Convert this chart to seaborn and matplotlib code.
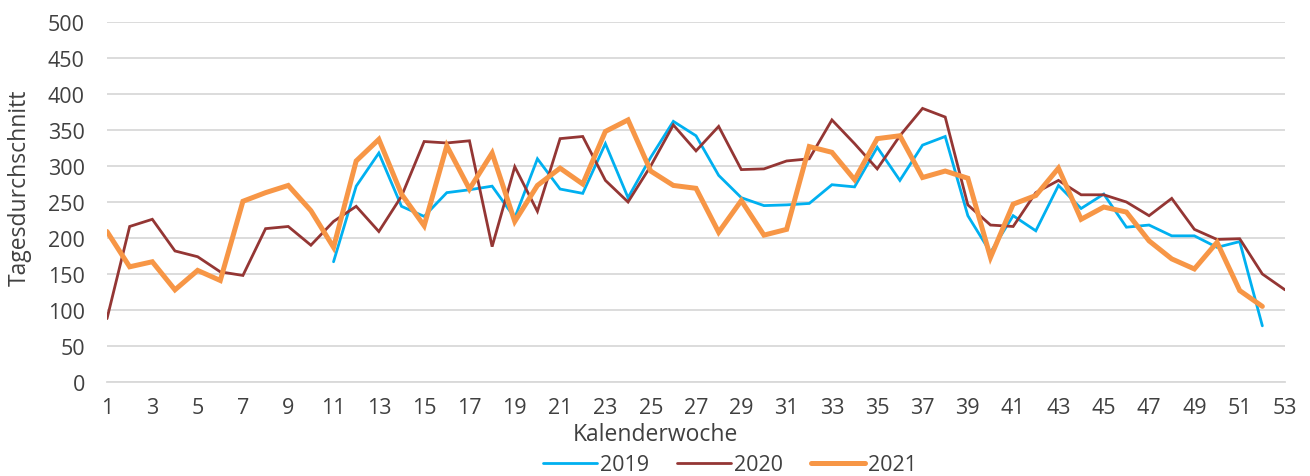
import pandas as pd
import matplotlib
matplotlib.use("Agg")
import matplotlib.pyplot as plt
import seaborn as sns

weeks = list(range(1, 54))

# Tagesdurchschnitt je Kalenderwoche
y2019 = [None] * 10 + [167, 272, 318, 244, 230, 263, 267, 272, 228, 310,
                       268, 262, 331, 256, 312, 362, 342, 287, 256, 245,
                       246, 248, 274, 271, 326, 280, 329, 341, 231, 180,
                       231, 210, 273, 241, 261, 215, 218, 203, 203, 187,
                       195, 78, None]
y2020 = [88, 216, 226, 182, 174, 153, 148, 213, 216, 190,
         223, 244, 209, 258, 334, 332, 335, 188, 299, 237,
         338, 341, 280, 250, 300, 357, 321, 355, 295, 296,
         307, 310, 364, 331, 296, 342, 380, 368, 246, 218,
         216, 263, 280, 260, 260, 250, 231, 255, 212, 198,
         199, 150, 128]
y2021 = [209, 160, 167, 128, 155, 141, 251, 263, 273, 238,
         187, 307, 337, 261, 217, 328, 268, 318, 223, 273,
         297, 275, 348, 364, 293, 273, 269, 208, 252, 204,
         212, 327, 319, 281, 338, 342, 284, 293, 283, 173,
         247, 259, 297, 226, 243, 236, 196, 171, 157, 194,
         127, 105, None]

years = ["2019", "2020", "2021"]
colors = {"2019": "#00B0F0", "2020": "#943634", "2021": "#F79646"}
widths = {"2019": 2.0, "2020": 2.0, "2021": 3.6}

df = pd.DataFrame({"Kalenderwoche": weeks, "2019": y2019, "2020": y2020, "2021": y2021})
df = df.melt(id_vars="Kalenderwoche", var_name="Jahr", value_name="Tagesdurchschnitt")

sns.set_style("white")
plt.rcParams["font.family"] = ["Open Sans", "DejaVu Sans"]
textcol = "#404040"

fig = plt.figure(figsize=(13.1, 4.77), dpi=100)
ax = fig.add_axes([107 / 1310, 1 - 383 / 477, (1285 - 107) / 1310, 360 / 477])

for yr in years:
    sub = df[df["Jahr"] == yr].dropna()
    sns.lineplot(data=sub, x="Kalenderwoche", y="Tagesdurchschnitt", ax=ax,
                 color=colors[yr], linewidth=widths[yr], label=yr,
                 solid_joinstyle="miter", zorder=3)

ax.set_xlim(1, 53)
ax.set_ylim(0, 500)
ax.set_yticks(range(0, 501, 50))
ax.set_xticks(weeks)
ax.set_xticklabels([str(w) if w % 2 == 1 else "" for w in weeks])
ax.yaxis.grid(True, color="#D9D9D9", linewidth=1.3)
ax.set_axisbelow(True)
for s in ["top", "right", "left"]:
    ax.spines[s].set_visible(False)
ax.spines["bottom"].set_color("#D9D9D9")
ax.spines["bottom"].set_linewidth(1.3)
ax.tick_params(axis="x", length=5, color="#D9D9D9", width=1.2, labelsize=15.5,
               labelcolor=textcol, pad=6)
ax.tick_params(axis="y", length=0, labelsize=15.5, labelcolor=textcol, pad=16)

ax.set_xlabel("Kalenderwoche", fontsize=16.5, color=textcol)
ax.xaxis.set_label_coords((655 - 107) / 1178, -(435 - 383) / 360)
ax.xaxis.label.set_va("center")
ax.set_ylabel("Tagesdurchschnitt", fontsize=16.5, color=textcol)
ax.yaxis.set_label_coords(-(107 - 20) / 1178, (383 - 188) / 360)
ax.yaxis.label.set_va("center")

ax.legend(loc="center", bbox_to_anchor=((730 - 107) / 1178, -(466 - 383) / 360), ncol=3,
          frameon=False, fontsize=15.5, labelcolor=textcol, handlelength=2.5,
          handletextpad=0.15, columnspacing=1.3)

fig.savefig("out.png", dpi=100)
